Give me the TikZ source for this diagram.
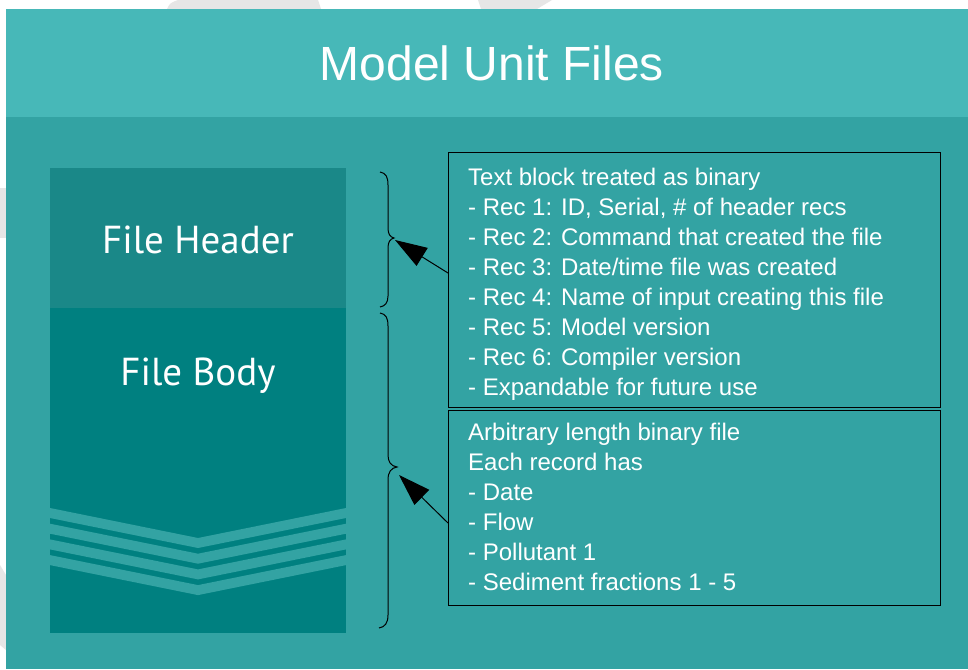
\documentclass[tikz,border=0pt]{standalone}
\usepackage{fontspec}
\setmainfont{Liberation Sans}
\newfontfamily\labelfont{PT Sans}
\usetikzlibrary{arrows.meta}

\definecolor{bandtop}{HTML}{47B8B8}
\definecolor{panel}{HTML}{33A3A3}
\definecolor{headerfill}{HTML}{1A8888}
\definecolor{bodyfill}{HTML}{008080}
\definecolor{ghost}{HTML}{E6E6E6}

\tikzset{
  block/.style={inner sep=0pt, outer sep=0pt, anchor=north west},
  infobox/.style={block, draw=black, line width=1pt},
  partlabel/.style={text=white, anchor=base, inner sep=0pt,
    font=\labelfont\fontsize{39}{39}\selectfont},
  boxline/.style={text=white, anchor=base west, inner sep=0pt,
    font=\fontsize{24}{24}\selectfont},
  brace/.style={draw=black, line width=1pt},
  pointer/.style={draw=black, line width=1pt,
    -{Triangle[length=32pt, width=21pt]}},
}

\begin{document}
\begin{tikzpicture}[x=1pt, y=-1pt]
\useasboundingbox (0,0) rectangle (968,669);
\fill[white] (0,0) rectangle (968,669);

% faint shapes peeking out behind the panel
\fill[ghost] (167,9) .. controls (170,3) .. (178,0) -- (318,0) .. controls (320,4) .. (321,9) -- cycle;
\fill[ghost] (478,0) -- (552,0) -- (537,9) -- (481,9) -- cycle;
\fill[ghost] (0,188) rectangle (6,238);
\fill[ghost] (0,565) -- (6,575) -- (6,650) -- (0,645) -- cycle;

% panel and title band
\fill[panel] (6,9) rectangle (968,669);
\fill[bandtop] (6,9) rectangle (968,117);
\node[text=white, anchor=base, inner sep=0pt, font=\fontsize{48}{48}\selectfont]
  (title) at (492,80) {Model Unit Files};

% file layout stack
\node[block, fill=headerfill, minimum width=296pt, minimum height=140pt] (header) at (50,168) {};
\node[block, fill=bodyfill, minimum width=296pt, minimum height=325pt] (body) at (50,308) {};
\foreach \t in {508,523.7,539.4,555.1}
  \fill[panel] (50,\t) -- (198,\t+30) -- (346,\t) -- (346,\t+10) -- (198,\t+40) -- (50,\t+10) -- cycle;
\node[partlabel] (headerlabel) at (198,253) {File Header};
\node[partlabel] (bodylabel) at (198,385) {File Body};

% description boxes
\node[infobox, minimum width=492pt, minimum height=255pt] (headbox) at (448,152) {};
\node[infobox, minimum width=492pt, minimum height=195pt] (bodybox) at (448,410) {};

\foreach \t [count=\i from 0] in {
  {Text block treated as binary},
  {- Rec 1: ID, Serial, \# of header recs},
  {- Rec 2: Command that created the file},
  {- Rec 3: Date/time file was created},
  {- Rec 4: Name of input creating this file},
  {- Rec 5: Model version},
  {- Rec 6: Compiler version},
  {- Expandable for future use}}
  \node[boxline] (hline\i) at (468,185+30*\i) {\t};

\foreach \t [count=\i from 0] in {
  {Arbitrary length binary file},
  {Each record has},
  {- Date},
  {- Flow},
  {- Pollutant 1},
  {- Sediment fractions 1 - 5}}
  \node[boxline] (bline\i) at (468,440+30*\i) {\t};

% braces
\coordinate (hcusp) at (394,238);
\coordinate (bcusp) at (397,467);
\draw[brace] (380,172) .. controls (386,173) and (388,177) .. (388,185) -- (388,228)
  .. controls (388,234) and (390,237) .. (hcusp)
  .. controls (390,239) and (388,242) .. (388,248) -- (388,296)
  .. controls (388,303) and (385,306) .. (380,307);
\draw[brace] (380,313) .. controls (386,314) and (388,318) .. (388,326) -- (388,455)
  .. controls (388,462) and (391,466) .. (bcusp)
  .. controls (391,468) and (388,472) .. (388,480) -- (388,615)
  .. controls (388,623) and (385,627) .. (379,628);

% arrows from the boxes to the braces
\coordinate (hsrc) at (headbox.west |- 0,273);
\coordinate (bsrc) at (bodybox.west |- 0,523);
\coordinate (htip) at (395,240);
\coordinate (btip) at (399,475);
\draw[pointer] (hsrc) -- (htip);
\draw[pointer] (bsrc) -- (btip);
\end{tikzpicture}
\end{document}
